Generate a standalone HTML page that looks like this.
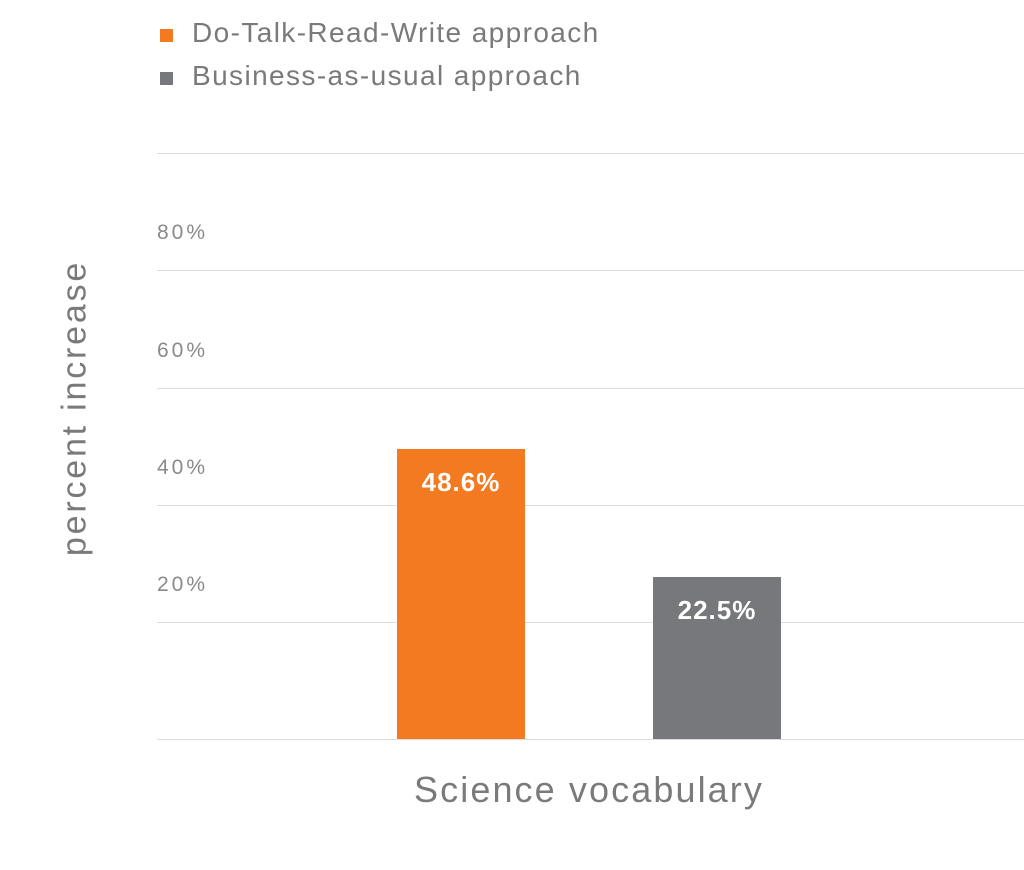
<!DOCTYPE html>
<html><head><meta charset="utf-8"><style>
html,body{margin:0;padding:0;background:#fff;}
body{width:1024px;height:870px;position:relative;overflow:hidden;font-family:"Liberation Sans",sans-serif;}
.g{position:absolute;left:157px;width:867px;height:1px;background:#dcdcdc;}
.t{position:absolute;left:157px;font-size:21px;color:#8a8a8a;letter-spacing:3px;}
.bar{position:absolute;}
.bl{position:absolute;color:#fff;font-size:26px;width:128px;text-align:center;font-weight:bold;letter-spacing:1px;}
.lg{position:absolute;left:192px;font-size:28px;color:#7a7a7a;line-height:1;letter-spacing:1.4px;}
.sq{position:absolute;left:160px;width:13px;height:13px;}
</style></head><body>
<div class="sq" style="top:29px;background:#f47a22"></div>
<div class="lg" style="top:19px">Do-Talk-Read-Write approach</div>
<div class="sq" style="top:72px;background:#77787b"></div>
<div class="lg" style="top:62px">Business-as-usual approach</div>

<div class="g" style="top:153px"></div>
<div class="g" style="top:270px"></div>
<div class="g" style="top:388px"></div>
<div class="g" style="top:505px"></div>
<div class="g" style="top:622px"></div>
<div class="g" style="top:739px"></div>
<div class="t" style="top:221px">80%</div>
<div class="t" style="top:339px">60%</div>
<div class="t" style="top:456px">40%</div>
<div class="t" style="top:573px">20%</div>

<div class="bar" style="left:397px;top:449px;width:128px;height:290px;background:#f47a22"></div>
<div class="bl" style="left:397px;top:467px">48.6%</div>
<div class="bar" style="left:653px;top:577px;width:128px;height:162px;background:#77787b"></div>
<div class="bl" style="left:653px;top:595px">22.5%</div>

<div style="position:absolute;left:75px;top:408px;transform:translate(-50%,-50%) rotate(-90deg);font-size:34px;color:#7a7a7a;white-space:nowrap;letter-spacing:2.8px;">percent increase</div>
<div style="position:absolute;left:589px;top:790px;transform:translate(-50%,-50%);font-size:36px;color:#7a7a7a;white-space:nowrap;letter-spacing:2.1px;">Science vocabulary</div>
</body></html>
